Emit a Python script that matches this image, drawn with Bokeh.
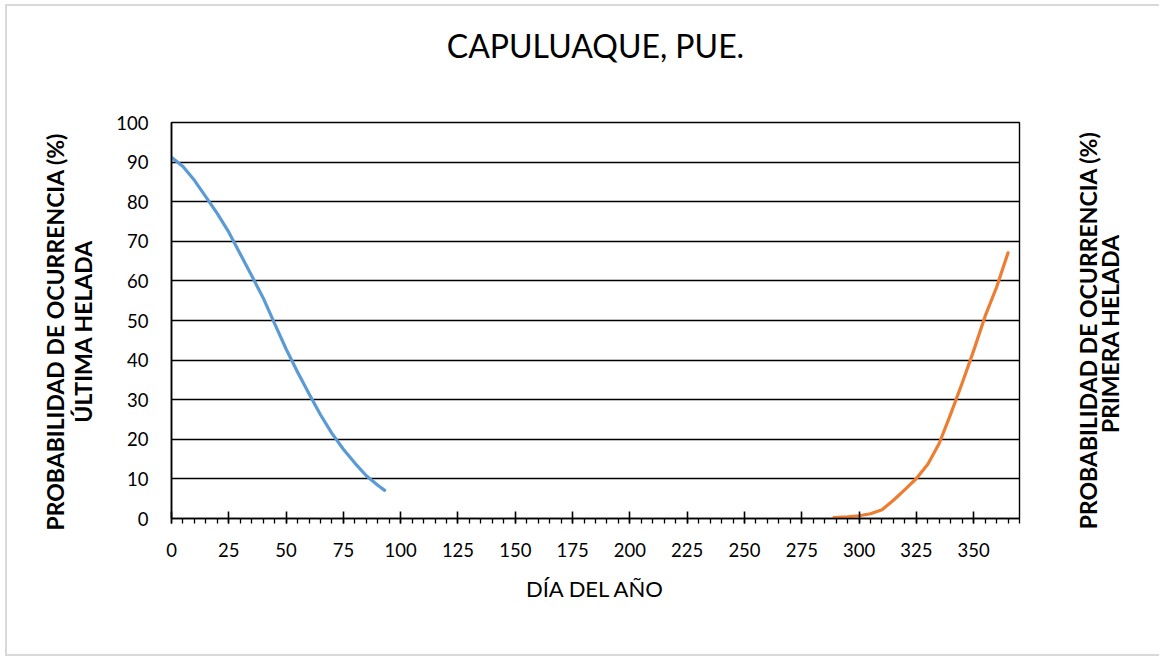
import math
from bokeh.plotting import figure
from bokeh.layouts import row
from bokeh.models import SingleIntervalTicker, FixedTicker, Range1d, LinearAxis
from bokeh.core.properties import value
from bokeh.embed import file_html
from bokeh.resources import INLINE

# ---- data ----
titulo = "CAPULUAQUE, PUE."
x_titulo = "DÍA DEL AÑO"
y_titulo_izq = ["PROBABILIDAD DE OCURRENCIA (%)", "ÚLTIMA HELADA"]
y_titulo_der = ["PROBABILIDAD DE OCURRENCIA (%)", "PRIMERA HELADA"]

dias_ultima = [0, 5, 10, 15, 20, 25, 30, 35, 40, 45, 50, 55, 60, 65, 70, 75, 80, 85, 90, 93]
prob_ultima = [91.2, 88.9, 85.4, 81.2, 77.0, 72.3, 66.8, 61.3, 55.7, 49.2, 42.8, 37.0, 31.5, 26.2, 21.5, 17.5, 14.0, 10.8, 8.4, 7.1]

dias_primera = [289, 295, 300, 305, 310, 315, 320, 325, 330, 335, 340, 345, 350, 355, 360, 365]
prob_primera = [0.2, 0.4, 0.7, 1.2, 2.2, 4.6, 7.3, 10.1, 13.7, 19.0, 26.4, 34.2, 42.4, 51.1, 58.4, 67.1]

FONT = "Lato"
VFS = "23px"
NB = "\u00a0" * 4

FRAME_W, FRAME_H = 848, 396
TOP, BOTTOM = 116, 136

p = figure(frame_width=FRAME_W, frame_height=FRAME_H,
           min_border_left=164, min_border_right=40, min_border_top=TOP, min_border_bottom=BOTTOM,
           x_range=Range1d(0, 370), y_range=Range1d(0, 100),
           output_backend="svg", toolbar_location=None,
           background_fill_color="white", border_fill_color="white")

p.outline_line_color = "black"
p.outline_line_width = 1.4
p.xgrid.visible = False
p.ygrid.grid_line_color = "black"
p.ygrid.grid_line_width = 1.4
p.ygrid.ticker = SingleIntervalTicker(interval=10, num_minor_ticks=0)
p.ygrid.bounds = (0, 100)


def bare_axis(label, standoff, size, style="bold"):
    ax = LinearAxis(ticker=FixedTicker(ticks=[]), axis_label=label)
    ax.axis_line_color = None
    ax.major_tick_in = 0
    ax.major_tick_out = 0
    ax.minor_tick_in = 0
    ax.minor_tick_out = 0
    ax.major_label_text_font_size = "0px"
    ax.axis_label_text_font = FONT
    ax.axis_label_text_font_style = style
    ax.axis_label_text_font_size = size
    ax.axis_label_text_color = "black"
    ax.axis_label_standoff = standoff
    return ax


xa = p.xaxis[0]
xa.ticker = SingleIntervalTicker(interval=25, num_minor_ticks=5)
xa.axis_line_color = "black"
xa.axis_line_width = 1.6
xa.major_tick_line_color = "black"
xa.major_tick_line_width = 1.6
xa.major_tick_in = 7
xa.major_tick_out = 5
xa.minor_tick_line_color = "black"
xa.minor_tick_line_width = 1.3
xa.minor_tick_in = 0
xa.minor_tick_out = 5
xa.major_label_text_font = FONT
xa.major_label_text_font_size = "18.5px"
xa.major_label_text_color = "black"
xa.major_label_standoff = 19
xa.axis_label = x_titulo
xa.axis_label_text_font = FONT
xa.axis_label_text_font_style = "normal"
xa.axis_label_text_font_size = "22px"
xa.axis_label_text_color = "black"
xa.axis_label_standoff = 15

ya = p.yaxis[0]
ya.ticker = SingleIntervalTicker(interval=10, num_minor_ticks=0)
ya.axis_line_color = "black"
ya.axis_line_width = 1.6
ya.major_tick_in = 0
ya.major_tick_out = 0
ya.minor_tick_in = 0
ya.minor_tick_out = 0
ya.major_label_text_font = FONT
ya.major_label_text_font_size = "18.5px"
ya.major_label_text_color = "black"
ya.major_label_standoff = 23

# title as the label of a bare axis above the frame
p.add_layout(bare_axis(titulo, 58, "32px", style="normal"), "above")

# left titles: line 2 nearest the frame, then line 1
p.add_layout(bare_axis(y_titulo_izq[1] + NB, 17, VFS), "left")
p.add_layout(bare_axis(y_titulo_izq[0] + NB, -3, VFS), "left")

p.line(dias_ultima, prob_ultima, line_color="#5B9BD5", line_width=3.2, line_cap="round", line_join="round")
p.line(dias_primera, prob_primera, line_color="#ED7D31", line_width=3.2, line_cap="round", line_join="round")

# right-hand titles (reading bottom to top) in a narrow companion figure; its frame
# top is aligned with the main frame and extends down over the bottom margin
px_per_unit = FRAME_H / 100.0
q = figure(frame_width=100, frame_height=FRAME_H + BOTTOM,
           min_border_left=0, min_border_right=0, min_border_top=TOP, min_border_bottom=0,
           x_range=Range1d(0, 100),
           y_range=Range1d(-BOTTOM / px_per_unit, 100),
           x_axis_type=None, y_axis_type=None,
           output_backend="svg", toolbar_location=None,
           background_fill_color="white", border_fill_color="white")
q.outline_line_color = None
q.text(x=[28.5, 50.5], y=[47.5, 46.7], text=y_titulo_der, angle=math.pi / 2,
       text_align="center", text_baseline="middle",
       text_font=value(FONT), text_font_style=value("bold"),
       text_font_size=value(VFS), text_color="black")

layout = row(p, q, spacing=0)
layout.styles = {"border-left": "2px solid #D9D9D9", "border-top": "2px solid #D9D9D9",
                 "border-bottom": "2px solid #D9D9D9", "margin-left": "5px", "margin-top": "4px"}

open("out.html", "w").write(file_html(layout, INLINE))
